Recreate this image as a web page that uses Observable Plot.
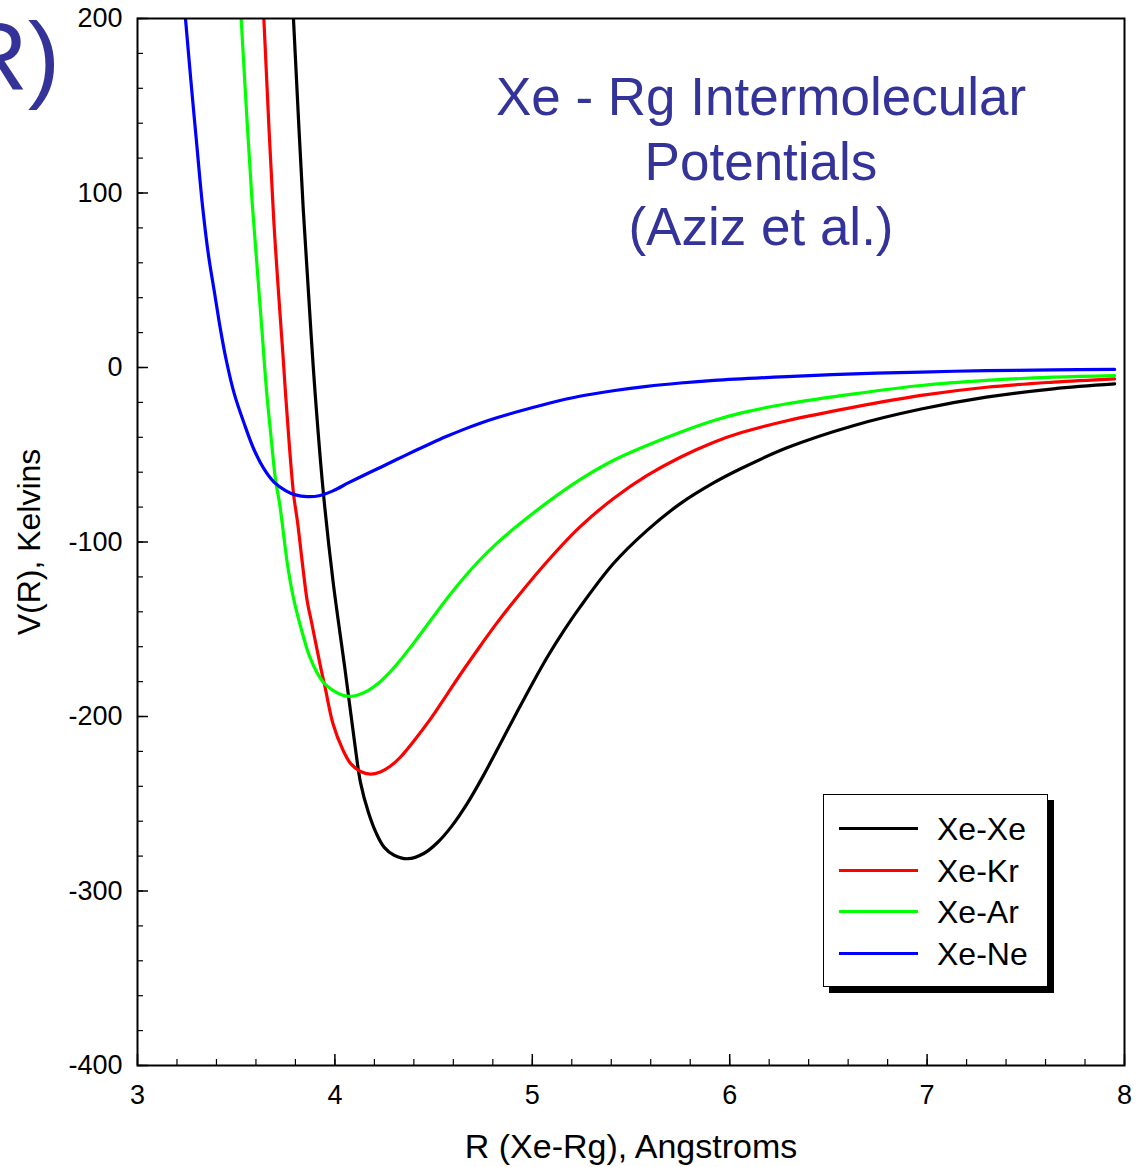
<!DOCTYPE html>
<html>
<head>
<meta charset="utf-8">
<script src="https://cdn.jsdelivr.net/npm/d3@7"></script>
<script src="https://cdn.jsdelivr.net/npm/@observablehq/plot@0.6"></script>
<style>
  html, body { margin: 0; padding: 0; background: white; overflow: hidden; }
  #wrap { position: relative; width: 1139px; height: 1167px; overflow: hidden; font-family: "Liberation Sans", Arial, sans-serif; }
  #chart { position: absolute; left: 0; top: 0; }
  #slide { position: absolute; right: 1079px; top: 8px; font-size: 97px; color: #333399; white-space: nowrap; line-height: 1; }
  #title { position: absolute; left: 411px; width: 700px; top: 64px; text-align: center; font-size: 53px; line-height: 65px; color: #333399; }
  #legend { position: absolute; left: 823px; top: 794px; width: 223px; height: 191px; border: 1.5px solid #000; background: #fff; box-shadow: 6px 6px 0 #000; }
  .sw { position: absolute; left: 15px; width: 79px; height: 3px; }
  .lab { position: absolute; left: 113px; font-size: 32px; color: #000; white-space: nowrap; line-height: 1; }
</style>
</head>
<body>
<div id="wrap">
  <div id="chart"></div>
  <div id="slide">V(R)</div>
  <div id="title">Xe - Rg Intermolecular<br>Potentials<br>(Aziz et al.)</div>
  <div id="legend"></div>
</div>
<script>
// Series names and colours
const seriesNames = ["Xe-Xe", "Xe-Kr", "Xe-Ar", "Xe-Ne"];
const seriesColors = ["#000000", "#ff0000", "#00ff00", "#0000ff"];

// Xe-Xe
const R_XeXe = [3.79, 3.84, 3.88, 3.90, 3.94, 3.99, 4.05, 4.10, 4.13, 4.17, 4.21, 4.25, 4.30, 4.37, 4.45, 4.52, 4.59, 4.67, 4.75, 4.83, 4.92, 5.00, 5.08, 5.16, 5.24, 5.41, 5.58, 5.75, 5.92, 6.05, 6.29, 6.63, 6.97, 7.30, 7.64, 7.95];
const V_XeXe = [200, 90, 18, -15, -70, -122, -172, -215, -238, -255, -267, -275, -279.5, -281.5, -278.5, -272.2, -263.1, -249.9, -234.3, -217.3, -198, -181.2, -165.2, -150.8, -137.6, -112.5, -93.5, -78, -66, -58.3, -46, -33.2, -23.8, -17, -12.2, -9.4];

// Xe-Kr
const R_XeKr = [3.64, 3.69, 3.74, 3.75, 3.79, 3.81, 3.86, 3.88, 3.93, 3.95, 3.99, 4.04, 4.08, 4.13, 4.18, 4.23, 4.28, 4.33, 4.40, 4.49, 4.57, 4.65, 4.74, 4.82, 4.91, 5.08, 5.24, 5.41, 5.58, 5.75, 5.92, 6.06, 6.29, 6.63, 6.97, 7.30, 7.64, 7.95];
const V_XeKr = [200, 85, 2, -15, -72, -88, -134, -145, -173, -183, -204, -219, -227, -231.5, -233, -231.8, -228.5, -223.5, -214, -200.5, -187, -173.5, -159, -146.5, -133.5, -110.6, -91.5, -75.2, -62, -51.4, -42.8, -37.3, -30.5, -22.7, -16, -11.3, -8.4, -6.5];

// Xe-Ar
const R_XeAr = [3.525, 3.58, 3.63, 3.655, 3.675, 3.70, 3.72, 3.76, 3.79, 3.83, 3.87, 3.91, 3.95, 3.99, 4.04, 4.08, 4.12, 4.17, 4.22, 4.28, 4.33, 4.40, 4.49, 4.57, 4.65, 4.74, 4.82, 4.91, 5.08, 5.24, 5.41, 5.58, 5.75, 5.92, 6.06, 6.29, 6.63, 6.97, 7.30, 7.64, 7.95];
const V_XeAr = [200, 96, 22, -15, -38, -65, -78, -113, -132, -150, -165, -175, -181.5, -185, -187.8, -188.5, -187.5, -185, -181, -174.4, -167.9, -157.8, -144.1, -132.1, -120.9, -109.6, -100.8, -92, -77, -64.4, -53.3, -44.7, -37.1, -30.4, -26, -20.8, -15.1, -10.3, -7.4, -5.5, -4.6];

// Xe-Ne
const R_XeNe = [3.243, 3.27, 3.30, 3.33, 3.36, 3.39, 3.42, 3.45, 3.49, 3.54, 3.59, 3.64, 3.69, 3.75, 3.80, 3.86, 3.92, 3.99, 4.07, 4.16, 4.23, 4.31, 4.40, 4.48, 4.57, 4.65, 4.74, 4.82, 4.91, 5.08, 5.24, 5.41, 5.58, 5.75, 5.92, 6.29, 6.63, 6.97, 7.30, 7.64, 7.95];
const V_XeNe = [200, 165, 128, 92, 64, 43, 22, 4, -15, -32, -47, -58, -65.5, -70.5, -73, -74, -73.5, -70.7, -66, -61, -57.3, -52.9, -48, -43.8, -39.3, -35.6, -31.8, -28.8, -25.8, -20.6, -16.5, -13.3, -10.8, -8.9, -7.4, -5.2, -3.6, -2.6, -1.8, -1.4, -1.1];

// Axis ticks
const xMajorTicks = [3, 4, 5, 6, 7, 8];
const xMinorTicks = d3.range(3, 8.0001, 0.2).map(v => +v.toFixed(1));
const yMajorTicks = [-400, -300, -200, -100, 0, 100, 200];
const yMinorTicks = d3.range(-400, 200.0001, 20);

const allR = [R_XeXe, R_XeKr, R_XeAr, R_XeNe];
const allV = [V_XeXe, V_XeKr, V_XeAr, V_XeNe];
const rows = [];
seriesNames.forEach((name, i) => {
  allR[i].forEach((r, j) => rows.push({series: name, R: r, V: allV[i][j]}));
});

const plain = d => String(d);

const chart = Plot.plot({
  width: 1139,
  height: 1167,
  marginLeft: 137,
  marginRight: 15,
  marginTop: 18,
  marginBottom: 102,
  style: {fontFamily: "'Liberation Sans', Arial, sans-serif", fontSize: "27px", color: "#000", background: "transparent"},
  x: {domain: [3, 8]},
  y: {domain: [-400, 200]},
  color: {domain: seriesNames, range: seriesColors},
  marks: [
    Plot.axisX(xMinorTicks, {tickSize: -6, tickFormat: () => "", label: null, strokeWidth: 1.2}),
    Plot.axisX(xMajorTicks, {tickSize: -11, tickPadding: 30, tickFormat: plain, fontSize: 27, label: null, strokeWidth: 1.5}),
    Plot.axisX([], {label: "R (Xe-Rg), Angstroms", labelAnchor: "center", labelOffset: 92, labelArrow: "none", fontSize: 34}),
    Plot.axisY(yMinorTicks, {tickSize: -6, tickFormat: () => "", label: null, strokeWidth: 1.2}),
    Plot.axisY(yMajorTicks, {tickSize: -11, tickPadding: 26, tickFormat: plain, fontSize: 27, label: null, strokeWidth: 1.5}),
    Plot.axisY([], {label: "V(R), Kelvins", labelAnchor: "center", labelOffset: 120, labelArrow: "none", fontSize: 32}),
    Plot.line(rows, {x: "R", y: "V", z: "series", stroke: "series", strokeWidth: 3.2, curve: "catmull-rom", clip: true}),
    Plot.frame({stroke: "#000", strokeWidth: 2})
  ]
});
document.getElementById("chart").appendChild(chart);

// Legend
const legend = document.getElementById("legend");
seriesNames.forEach((name, i) => {
  const top = 13 + i * 41.7;
  const sw = document.createElement("div");
  sw.className = "sw";
  sw.style.top = (top + 19) + "px";
  sw.style.background = seriesColors[i];
  legend.appendChild(sw);
  const lab = document.createElement("div");
  lab.className = "lab";
  lab.style.top = (top + 5) + "px";
  lab.textContent = name;
  legend.appendChild(lab);
});
</script>
</body>
</html>
